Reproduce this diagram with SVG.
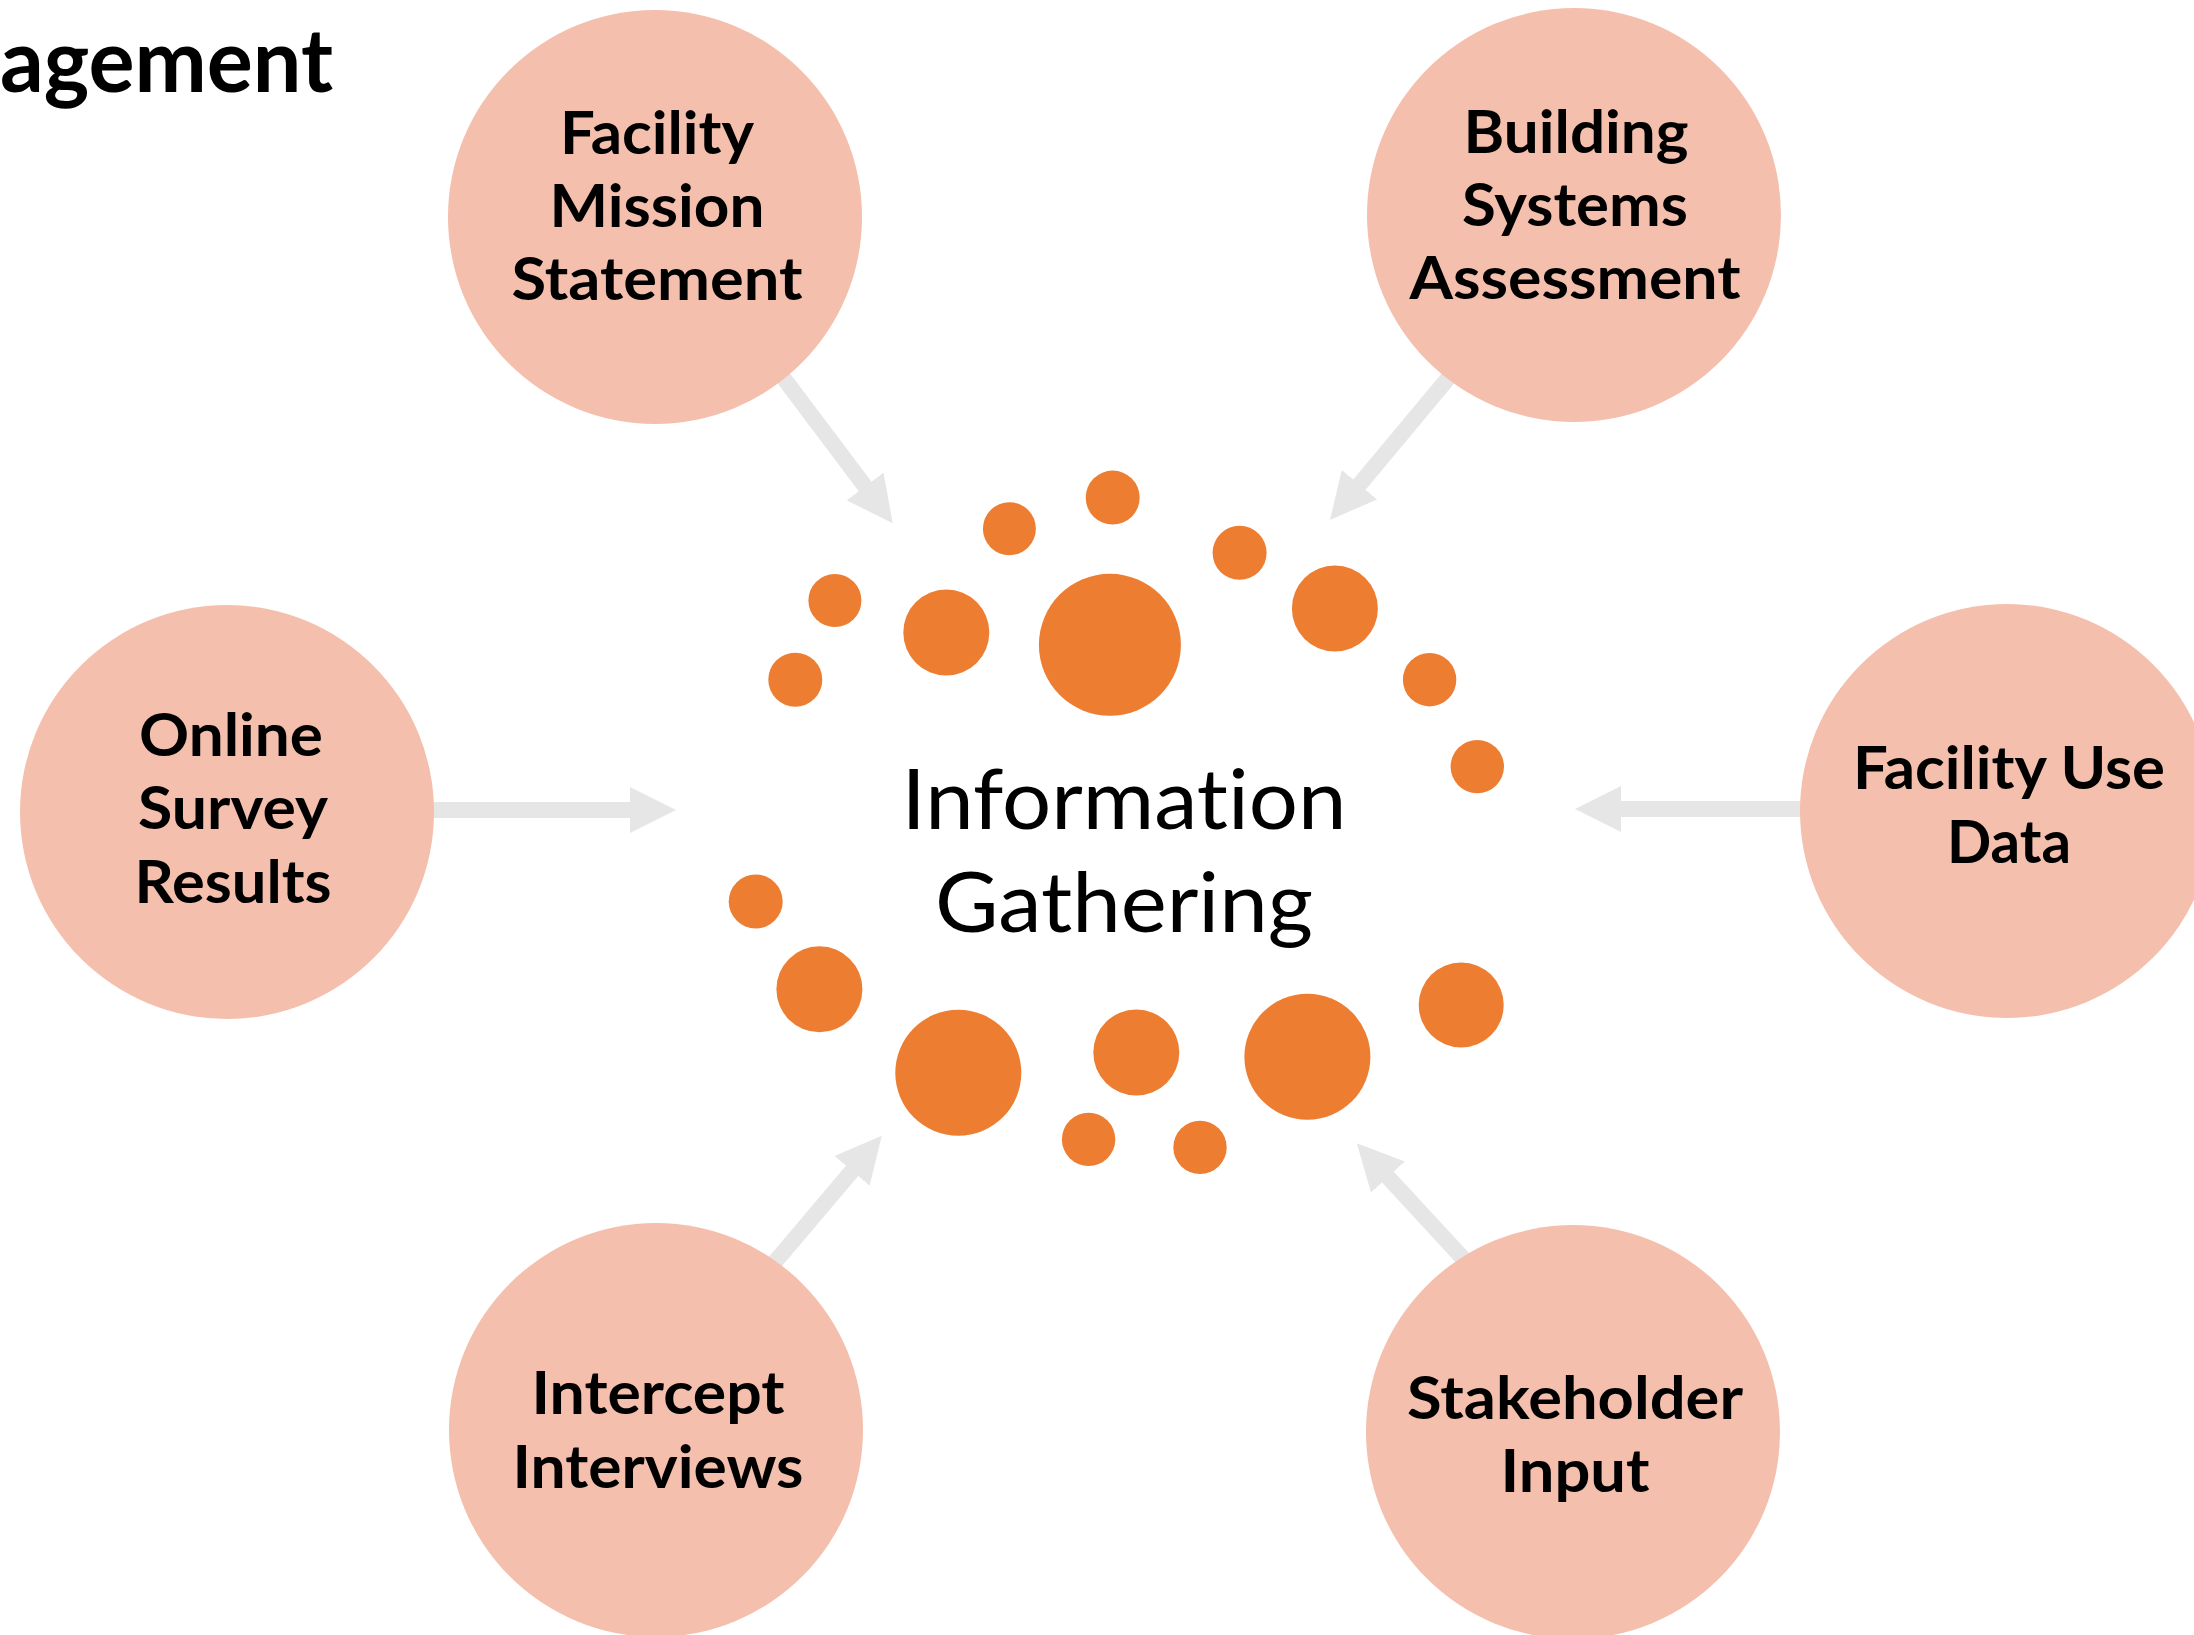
<svg xmlns="http://www.w3.org/2000/svg" width="2194" height="1635" viewBox="0 0 2194 1635">
<style>
.bg{fill:#FFFFFF}
.node{fill:#F4BFAD}
.dot{fill:#ED7D31}
text{font-variant-ligatures:none}
.lbl{font-family:Lato,"Open Sans","Liberation Sans",sans-serif;font-weight:bold;font-size:59px;fill:#000000;text-anchor:middle}
.ctr{font-family:Lato,"Open Sans","Liberation Sans",sans-serif;font-weight:normal;font-size:84px;fill:#000000;text-anchor:middle}
.ttl{font-family:Lato,"Open Sans","Liberation Sans",sans-serif;font-weight:bold;font-size:88px;fill:#000000}
.conn{stroke:#E6E6E6;stroke-width:16;fill:none;marker-end:url(#ah)}
</style>
<defs>
<marker id="ah" markerUnits="userSpaceOnUse" markerWidth="46" markerHeight="46" viewBox="0 0 46 46" refX="1" refY="23" orient="auto">
<path d="M0,0 L46,23 L0,46 Z" fill="#E6E6E6"/>
</marker>
</defs>
<rect class="bg" x="0" y="0" width="2194" height="1635"/>
<text class="ttl" x="0" y="92" textLength="333" lengthAdjust="spacingAndGlyphs">agement</text>
<g id="connectors">
<line class="conn" x1="779" y1="372" x2="865.7" y2="487.3"/>
<line class="conn" x1="1453" y1="372.3" x2="1358.8" y2="485.4"/>
<line class="conn" x1="420" y1="810" x2="631" y2="810"/>
<line class="conn" x1="1807" y1="809" x2="1620" y2="809"/>
<line class="conn" x1="770.2" y1="1267.6" x2="852.7" y2="1170.1"/>
<line class="conn" x1="1470" y1="1266" x2="1387.3" y2="1176.3"/>
</g>
<g id="node-facility-mission">
<circle class="node" cx="655" cy="217" r="207"/>
<text class="lbl" x="657" y="154" textLength="194" lengthAdjust="spacingAndGlyphs">Facility</text>
<text class="lbl" x="657" y="227" textLength="215" lengthAdjust="spacingAndGlyphs">Mission</text>
<text class="lbl" x="657" y="300" textLength="291" lengthAdjust="spacingAndGlyphs">Statement</text>
</g>
<g id="node-building-systems">
<circle class="node" cx="1574" cy="215" r="207"/>
<text class="lbl" x="1576" y="153" textLength="225" lengthAdjust="spacingAndGlyphs">Building</text>
<text class="lbl" x="1575" y="226" textLength="226" lengthAdjust="spacingAndGlyphs">Systems</text>
<text class="lbl" x="1575" y="299" textLength="331" lengthAdjust="spacingAndGlyphs">Assessment</text>
</g>
<g id="node-online-survey">
<circle class="node" cx="227" cy="812" r="207"/>
<text class="lbl" x="231" y="756" textLength="184" lengthAdjust="spacingAndGlyphs">Online</text>
<text class="lbl" x="233" y="829" textLength="190" lengthAdjust="spacingAndGlyphs">Survey</text>
<text class="lbl" x="233" y="903" textLength="197" lengthAdjust="spacingAndGlyphs">Results</text>
</g>
<g id="node-facility-use">
<circle class="node" cx="2007" cy="811" r="207"/>
<text class="lbl" x="2009" y="789" textLength="312" lengthAdjust="spacingAndGlyphs">Facility Use</text>
<text class="lbl" x="2009" y="863" textLength="124" lengthAdjust="spacingAndGlyphs">Data</text>
</g>
<g id="node-intercept">
<circle class="node" cx="656" cy="1430" r="207"/>
<text class="lbl" x="658" y="1414" textLength="253" lengthAdjust="spacingAndGlyphs">Intercept</text>
<text class="lbl" x="658" y="1488" textLength="291" lengthAdjust="spacingAndGlyphs">Interviews</text>
</g>
<g id="node-stakeholder">
<circle class="node" cx="1573" cy="1432" r="207"/>
<text class="lbl" x="1575" y="1419" textLength="336" lengthAdjust="spacingAndGlyphs">Stakeholder</text>
<text class="lbl" x="1575" y="1492" textLength="149" lengthAdjust="spacingAndGlyphs">Input</text>
</g>
<g id="node-information-gathering">
<circle class="dot" cx="1112.7" cy="497.6" r="27"/>
<circle class="dot" cx="1009.4" cy="528.7" r="26.5"/>
<circle class="dot" cx="1239.6" cy="552.8" r="27"/>
<circle class="dot" cx="834.9" cy="600.5" r="26.5"/>
<circle class="dot" cx="946.3" cy="632.5" r="43"/>
<circle class="dot" cx="1109.9" cy="644.8" r="71"/>
<circle class="dot" cx="1334.9" cy="608.5" r="43"/>
<circle class="dot" cx="795.3" cy="679.7" r="27"/>
<circle class="dot" cx="1429.6" cy="679.7" r="26.7"/>
<circle class="dot" cx="1477.3" cy="766.6" r="26.7"/>
<circle class="dot" cx="755.7" cy="901.5" r="27"/>
<circle class="dot" cx="819.4" cy="989.3" r="43"/>
<circle class="dot" cx="958.3" cy="1072.8" r="63"/>
<circle class="dot" cx="1136.3" cy="1052.5" r="43"/>
<circle class="dot" cx="1307.4" cy="1056.8" r="63"/>
<circle class="dot" cx="1461.2" cy="1004.9" r="42.5"/>
<circle class="dot" cx="1088.6" cy="1139.4" r="26.7"/>
<circle class="dot" cx="1200" cy="1147.4" r="26.7"/>
<text class="ctr" x="1124" y="829" textLength="445" lengthAdjust="spacingAndGlyphs">Information</text>
<text class="ctr" x="1124" y="932" textLength="378" lengthAdjust="spacingAndGlyphs">Gathering</text>
</g>
</svg>
